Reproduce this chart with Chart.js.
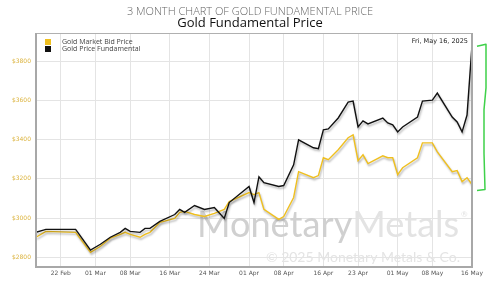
<!DOCTYPE html>
<html>
<head>
<meta charset="utf-8">
<script src="https://cdn.jsdelivr.net/npm/chart.js@4"></script>
<style>
  html, body { margin: 0; padding: 0; background: #fff; }
  #wrap { width: 500px; height: 291px; }
</style>
</head>
<body>
<div id="wrap"><canvas id="chart" width="500" height="291"></canvas></div>
<script>
const dates = [
  "2025-02-17", "2025-02-19", "2025-02-25", "2025-02-28", "2025-03-02", "2025-03-04",
  "2025-03-06", "2025-03-07", "2025-03-08", "2025-03-10", "2025-03-11", "2025-03-12",
  "2025-03-14", "2025-03-17", "2025-03-18", "2025-03-19", "2025-03-21", "2025-03-23",
  "2025-03-25", "2025-03-27", "2025-03-28", "2025-04-01", "2025-04-02", "2025-04-03",
  "2025-04-04", "2025-04-07", "2025-04-08", "2025-04-10", "2025-04-11", "2025-04-14",
  "2025-04-15", "2025-04-16", "2025-04-17", "2025-04-19", "2025-04-21", "2025-04-22",
  "2025-04-23", "2025-04-24", "2025-04-25", "2025-04-28", "2025-04-29", "2025-04-30",
  "2025-05-01", "2025-05-02", "2025-05-05", "2025-05-06", "2025-05-08", "2025-05-09",
  "2025-05-12", "2025-05-13", "2025-05-14", "2025-05-15", "2025-05-16"
];
const fundamentalPrice = [
  2927, 2942, 2942, 2836, 2866, 2902,
  2927, 2947, 2932, 2927, 2947, 2947,
  2983, 3018, 3044, 3029, 3064, 3044,
  3054, 2998, 3079, 3161, 3079, 3211,
  3181, 3161, 3166, 3272, 3399, 3359,
  3354, 3450, 3455, 3511, 3592, 3597,
  3465, 3496, 3481, 3511, 3486, 3476,
  3440, 3465, 3516, 3597, 3602, 3638,
  3516, 3491, 3440, 3526, 3882
];
const bidPrice = [
  2902, 2932, 2927, 2825, 2856, 2897,
  2917, 2927, 2917, 2902, 2917, 2927,
  2978, 2998, 3029, 3034, 3018, 3008,
  3024, 3044, 3084, 3130, 3120, 3130,
  3044, 2993, 3008, 3105, 3237, 3206,
  3217, 3308, 3298, 3349, 3410, 3425,
  3293, 3323, 3278, 3318, 3308, 3308,
  3222, 3257, 3308, 3384, 3384, 3338,
  3237, 3242, 3186, 3206, 3171
];
const tickDates = [
  "2025-02-22", "2025-03-01", "2025-03-08", "2025-03-16", "2025-03-24", "2025-04-01",
  "2025-04-08", "2025-04-16", "2025-04-23", "2025-05-01", "2025-05-08", "2025-05-16"
];
const tickLabels = [
  "22 Feb", "01 Mar", "08 Mar", "16 Mar", "24 Mar", "01 Apr",
  "08 Apr", "16 Apr", "23 Apr", "01 May", "08 May", "16 May"
];
const priceTicks = [2800, 3000, 3200, 3400, 3600, 3800];

const GOLD = "#efbf1f";
const BLACK = "#111111";
const TICK_FONT = { family: "'DejaVu Sans', sans-serif", size: 6 };

const dayOf = (d) => (Date.parse(d) - Date.parse(dates[0])) / 86400000;
const toPoints = (values) => values.map((v, i) => ({ x: dayOf(dates[i]), y: v }));

// faint watermark behind the lines
const backdrop = {
  id: "backdrop",
  beforeDatasetsDraw(chart) {
    const { ctx, chartArea: a } = chart;
    ctx.save();
    ctx.textBaseline = "alphabetic";
    ctx.textAlign = "left";
    let size = 40;
    ctx.font = `${size}px Lato, sans-serif`;
    const w = ctx.measureText("MonetaryMetals").width;
    size = size * 262 / w;
    ctx.font = `${size}px Lato, sans-serif`;
    const x0 = a.right - 275;
    const base = a.bottom - 30;
    ctx.fillStyle = "#d0d0d0";
    ctx.fillText("Monetary", x0, base);
    const mw = ctx.measureText("Monetary").width;
    ctx.fillStyle = "#e3e3e3";
    ctx.fillText("Metals", x0 + mw, base);
    ctx.font = `${size * 0.22}px Lato, sans-serif`;
    ctx.fillText("®", x0 + 264, base - size * 0.55);
    ctx.font = "14px Lato, sans-serif";
    ctx.fillStyle = "#e4e4e4";
    ctx.textAlign = "right";
    ctx.fillText("© 2025 Monetary Metals & Co.", a.right - 12, a.bottom - 5);
    ctx.restore();
  },
  afterDraw(chart) {
    const { ctx, chartArea: a } = chart;
    ctx.save();
    ctx.strokeStyle = "#b0b0b0";
    ctx.lineWidth = 1;
    ctx.beginPath();
    ctx.moveTo(a.left, a.top + 0.5);
    ctx.lineTo(a.right, a.top + 0.5);
    ctx.stroke();
    ctx.lineWidth = 2;
    ctx.strokeStyle = "#a8a8a8";
    ctx.beginPath();
    ctx.moveTo(a.left, a.top);
    ctx.lineTo(a.left, a.bottom);
    ctx.lineTo(a.right, a.bottom);
    ctx.lineTo(a.right, a.top);
    ctx.stroke();

    // legend inside the plot
    const items = [["Gold Market Bid Price", GOLD], ["Gold Price Fundamental", BLACK]];
    ctx.font = "7px 'Open Sans', sans-serif";
    ctx.textBaseline = "middle";
    ctx.textAlign = "left";
    items.forEach(([label, color], i) => {
      const y = a.top + 9 + i * 7;
      ctx.fillStyle = color;
      ctx.fillRect(a.left + 9, y - 3, 6, 6);
      ctx.fillStyle = "#444";
      ctx.fillText(label, a.left + 26, y);
    });

    ctx.font = "6.5px 'DejaVu Sans', sans-serif";
    ctx.textAlign = "right";
    ctx.fillStyle = "#222";
    ctx.fillText("Fri, May 16, 2025", a.right - 4, a.top + 8);

    // green bracket marking the gap on the last day
    const ys = chart.scales.y;
    const top = ys.getPixelForValue(fundamentalPrice[fundamentalPrice.length - 1]) - 1;
    const bot = ys.getPixelForValue(bidPrice[bidPrice.length - 1]) + 5;
    const bx = a.right + 14;
    ctx.strokeStyle = "#3fd14a";
    ctx.lineWidth = 1.5;
    ctx.lineJoin = "round";
    ctx.beginPath();
    ctx.moveTo(bx - 9, top + 2);
    ctx.lineTo(bx, top);
    ctx.lineTo(bx, top + (bot - top) * 0.3);
    ctx.lineTo(bx - 2, top + (bot - top) * 0.45);
    ctx.lineTo(bx - 2, top + (bot - top) * 0.75);
    ctx.lineTo(bx - 1, bot);
    ctx.lineTo(bx - 9, bot + 1);
    ctx.stroke();
    ctx.restore();
  }
};

// soft drop shadow under each line
const lineShadow = {
  id: "lineShadow",
  beforeDatasetDraw(chart) {
    const ctx = chart.ctx;
    ctx.save();
    ctx.shadowColor = "rgba(0,0,0,0.3)";
    ctx.shadowBlur = 2;
    ctx.shadowOffsetX = 1;
    ctx.shadowOffsetY = 2;
  },
  afterDatasetDraw(chart) {
    chart.ctx.restore();
  }
};

new Chart(document.getElementById("chart"), {
  type: "line",
  data: {
    datasets: [
      {
        label: "Gold Price Fundamental",
        data: toPoints(fundamentalPrice),
        borderColor: BLACK,
        borderWidth: 1.4,
        pointRadius: 0,
        tension: 0,
        order: 0
      },
      {
        label: "Gold Market Bid Price",
        data: toPoints(bidPrice),
        borderColor: GOLD,
        borderWidth: 1.4,
        pointRadius: 0,
        tension: 0,
        order: 1
      }
    ]
  },
  options: {
    responsive: false,
    animation: false,
    layout: { padding: 0 },
    plugins: {
      legend: { display: false },
      tooltip: { enabled: false },
      title: {
        display: true,
        text: "3 MONTH CHART OF GOLD FUNDAMENTAL PRICE",
        color: "#666",
        font: { family: "'Open Sans', sans-serif", size: 11, weight: 300, lineHeight: 1 },
        padding: { top: 6, bottom: 0 }
      },
      subtitle: {
        display: true,
        text: "Gold Fundamental Price",
        color: "#111",
        font: { family: "'Open Sans', sans-serif", size: 13, weight: "normal", lineHeight: 1 },
        padding: { top: 0, bottom: 3 }
      }
    },
    scales: {
      x: {
        type: "linear",
        min: 0,
        max: dayOf(dates[dates.length - 1]),
        afterBuildTicks: (s) => { s.ticks = tickDates.map((d) => ({ value: dayOf(d) })); },
        afterFit: (s) => { s.height = 24; },
        ticks: {
          autoSkip: false,
          maxRotation: 0,
          padding: 3,
          color: "#555",
          font: TICK_FONT,
          callback: (v) => tickLabels[tickDates.findIndex((d) => dayOf(d) === v)]
        },
        grid: { color: "#e4e4e4", drawTicks: false },
        border: { display: false }
      },
      y: {
        min: 2750,
        max: 3945,
        afterBuildTicks: (s) => { s.ticks = priceTicks.map((v) => ({ value: v })); },
        afterFit: (s) => { s.width = 36; },
        ticks: {
          padding: 5,
          color: "#dcb440",
          font: TICK_FONT,
          callback: (v) => "$" + v
        },
        grid: { color: "#e4e4e4", drawTicks: false },
        border: { display: false }
      },
      gap: {
        position: "right",
        grid: { display: false },
        ticks: { display: false },
        border: { display: false },
        afterFit: (s) => { s.width = 28; }
      }
    }
  },
  plugins: [backdrop, lineShadow]
});
</script>
</body>
</html>
